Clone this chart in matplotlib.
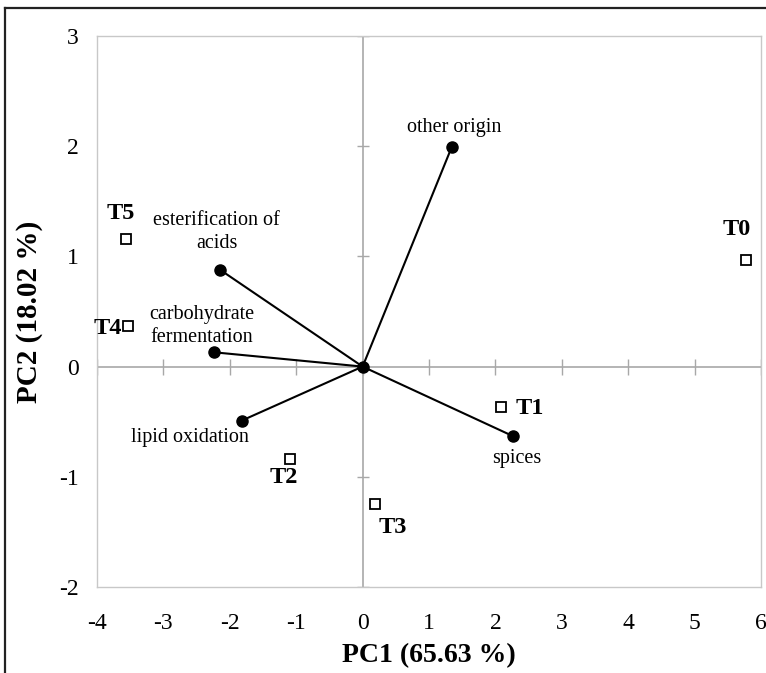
import matplotlib
matplotlib.use('Agg')
import matplotlib.pyplot as plt
from matplotlib.lines import Line2D

plt.rcParams['font.family'] = ['Liberation Serif', 'DejaVu Serif']

# loadings (vectors from origin)
load_names = ['other origin', 'esterification of\nacids', 'carbohydrate\nfermentation',
              'lipid oxidation', 'spices']
load_x = [1.34, -2.15, -2.24, -1.82, 2.26]
load_y = [1.99, 0.88, 0.13, -0.49, -0.63]
load_lab_x = [1.38, -2.2, -2.42, -2.6, 2.32]
load_lab_y = [2.17, 1.22, 0.37, -0.64, -0.83]

# scores (samples)
score_names = ['T0', 'T1', 'T2', 'T3', 'T4', 'T5']
score_x = [5.78, 2.09, -1.10, 0.18, -3.54, -3.57]
score_y = [0.97, -0.37, -0.84, -1.25, 0.37, 1.16]
score_lab_x = [5.63, 2.52, -1.19, 0.45, -3.84, -3.64]
score_lab_y = [1.24, -0.38, -1.01, -1.46, 0.35, 1.39]

xticks = list(range(-4, 7))
yticks = list(range(-2, 4))

fig = plt.figure(figsize=(7.66, 6.73), dpi=100)
ax = fig.add_axes([0.1266, 0.1278, 0.867, 0.8187])
ax.set_xlim(-4, 6)
ax.set_ylim(-2, 3)

for s in ax.spines.values():
    s.set_color('#c8c8c8')
    s.set_linewidth(1.0)

# zero axes with crossing ticks
ax.axhline(0, color='#a8a8a8', lw=1.2, zorder=1)
ax.axvline(0, color='#a8a8a8', lw=1.2, zorder=1)
ax.plot(xticks, [0] * len(xticks), ls='none', marker='|', ms=11, mew=1.0, color='#a8a8a8', zorder=1)
ax.plot([0] * len(yticks), yticks, ls='none', marker='_', ms=8, mew=1.0, color='#a8a8a8', zorder=1)

for x, y in zip(load_x, load_y):
    ax.plot([0, x], [0, y], color='black', lw=1.5, zorder=3)
ax.plot(load_x, load_y, 'o', color='black', ms=8, ls='none', zorder=4)
ax.plot([0], [0], 'o', color='black', ms=8, zorder=4)

for name, tx, ty in zip(load_names, load_lab_x, load_lab_y):
    ax.text(tx, ty, name, ha='center', va='center', fontsize=14.5, linespacing=1.3)

ax.plot(score_x, score_y, 's', mfc='white', mec='black', mew=1.3, ms=7, ls='none', zorder=4)
for name, tx, ty in zip(score_names, score_lab_x, score_lab_y):
    ax.text(tx, ty, name, ha='center', va='center', fontsize=17.5, fontweight='bold')

ax.set_xticks(xticks)
ax.set_yticks(yticks)
ax.set_xticklabels([str(v) for v in xticks])
ax.set_yticklabels([str(v) for v in yticks])
ax.tick_params(axis='x', length=0, pad=19, labelsize=17)
ax.tick_params(axis='y', length=0, pad=13, labelsize=17)

ax.set_xlabel('PC1 (65.63 %)', fontsize=20, fontweight='bold', labelpad=6)
ax.set_ylabel('PC2 (18.02 %)', fontsize=21, fontweight='bold', labelpad=12)

# outer frame (top and left edges)
fig.add_artist(Line2D([0.0065, 1.0], [0.988, 0.988], color='#222222', lw=1.6, transform=fig.transFigure))
fig.add_artist(Line2D([0.0065, 0.0065], [0.0, 0.988], color='#222222', lw=1.6, transform=fig.transFigure))

fig.savefig('out.png', dpi=100)
